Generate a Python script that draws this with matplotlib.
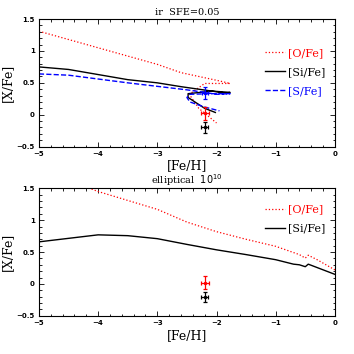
import matplotlib
matplotlib.use('Agg')
import matplotlib.pyplot as plt
from matplotlib.ticker import MultipleLocator

# top panel: ir SFE=0.05
ir_feh_o = [-5.0, -4.5, -4.0, -3.5, -3.0, -2.6, -2.2, -1.95, -1.77, -2.2, -2.46, -2.3, -2.0]
ir_o = [1.31, 1.18, 1.05, 0.92, 0.79, 0.66, 0.58, 0.53, 0.49, 0.49, 0.32, 0.10, -0.13]
ir_feh_si = [-5.0, -4.5, -4.0, -3.5, -3.0, -2.6, -2.3, -2.0, -1.85, -1.77, -2.07, -2.48, -2.48, -2.2, -2.02]
ir_si = [0.75, 0.71, 0.63, 0.55, 0.50, 0.44, 0.40, 0.36, 0.34, 0.35, 0.37, 0.33, 0.27, 0.10, 0.035]
ir_feh_s = [-5.0, -4.5, -4.0, -3.5, -3.0, -2.5, -2.2, -2.0, -1.77, -2.1, -2.45, -2.5, -2.45, -2.2, -1.95]
ir_s = [0.64, 0.62, 0.56, 0.50, 0.445, 0.39, 0.35, 0.32, 0.33, 0.33, 0.32, 0.27, 0.20, 0.12, 0.06]

# bottom panel: elliptical 10^10
el_feh_o = [-5.0, -4.2, -4.0, -3.5, -3.0, -2.5, -2.0, -1.5, -1.0, -0.6, -0.5, -0.45, -0.3, 0.0]
el_o = [1.52, 1.52, 1.45, 1.31, 1.17, 0.97, 0.82, 0.70, 0.59, 0.46, 0.405, 0.45, 0.38, 0.22]
el_feh_si = [-5.0, -4.5, -4.0, -3.5, -3.0, -2.5, -2.0, -1.5, -1.0, -0.7, -0.6, -0.5, -0.45, 0.0]
el_si = [0.66, 0.715, 0.77, 0.757, 0.71, 0.62, 0.535, 0.46, 0.38, 0.31, 0.30, 0.27, 0.31, 0.15]

# observed points
obs_feh = [-2.2, -2.2, -2.2]
obs_x = [0.34, 0.02, -0.20]
obs_xerr = [0.05, 0.07, 0.06]
obs_yerr = [0.10, 0.10, 0.08]
obs_col = ['blue', 'red', 'black']

xticks = [-5, -4, -3, -2, -1, 0]
xticklabels = ['\u22125', '\u22124', '\u22123', '\u22122', '\u22121', '0']
yticks = [-0.5, 0, 0.5, 1, 1.5]
yticklabels = ['\u22120.5', '0', '0.5', '1', '1.5']

serif = 'DejaVu Serif'

fig = plt.figure(figsize=(3.54, 3.54), dpi=100)
ax1 = fig.add_axes([0.110, 0.586, 0.836, 0.360])
ax2 = fig.add_axes([0.110, 0.108, 0.836, 0.360])


def style(ax):
    ax.set_xlim(-5, 0)
    ax.set_ylim(-0.5, 1.5)
    ax.set_xticks(xticks, xticklabels, fontweight='bold')
    ax.set_yticks(yticks, yticklabels, fontweight='bold')
    ax.xaxis.set_minor_locator(MultipleLocator(0.2))
    ax.yaxis.set_minor_locator(MultipleLocator(0.1))
    ax.tick_params(which='both', direction='in', top=True, right=True, labelsize=5, pad=3, width=0.6)
    ax.tick_params(which='major', length=3.5)
    ax.tick_params(which='minor', length=1.8)
    for sp in ax.spines.values():
        sp.set_linewidth(0.8)
    ax.set_xlabel('[Fe/H]', family=serif, fontsize=9, labelpad=2)
    ax.set_ylabel('[X/Fe]', family=serif, fontsize=9, labelpad=2)


def points(ax, show):
    for i in show:
        ax.errorbar(obs_feh[i], obs_x[i], xerr=obs_xerr[i], yerr=obs_yerr[i], fmt='o',
                    ms=1.5, color=obs_col[i], elinewidth=0.9, capsize=1.2, capthick=0.9)


def legend(ax, y, colors):
    leg = ax.legend(loc='upper right', bbox_to_anchor=(1.0, y), frameon=False,
                    handlelength=1.8, labelspacing=0.8, handletextpad=0.2,
                    prop={'family': serif, 'size': 8})
    for t, c in zip(leg.get_texts(), colors):
        t.set_color(c)


ax1.plot(ir_feh_o, ir_o, ':', color='red', lw=0.9, label='[O/Fe]')
ax1.plot(ir_feh_si, ir_si, '-', color='black', lw=1.0, label='[Si/Fe]')
ax1.plot(ir_feh_s, ir_s, '--', color='blue', lw=1.0, label='[S/Fe]')
points(ax1, [0, 1, 2])
style(ax1)
ax1.set_title('ir  SFE=0.05', family=serif, fontsize=7, pad=3)
legend(ax1, 0.85, ['red', 'black', 'blue'])

ax2.plot(el_feh_o, el_o, ':', color='red', lw=0.9, label='[O/Fe]')
ax2.plot(el_feh_si, el_si, '-', color='black', lw=1.0, label='[Si/Fe]')
points(ax2, [1, 2])
style(ax2)
ax2.set_title('elliptical  $10^{10}$', family=serif, fontsize=7, pad=1)
legend(ax2, 0.95, ['red', 'black'])

fig.savefig('out.png', dpi=100)
